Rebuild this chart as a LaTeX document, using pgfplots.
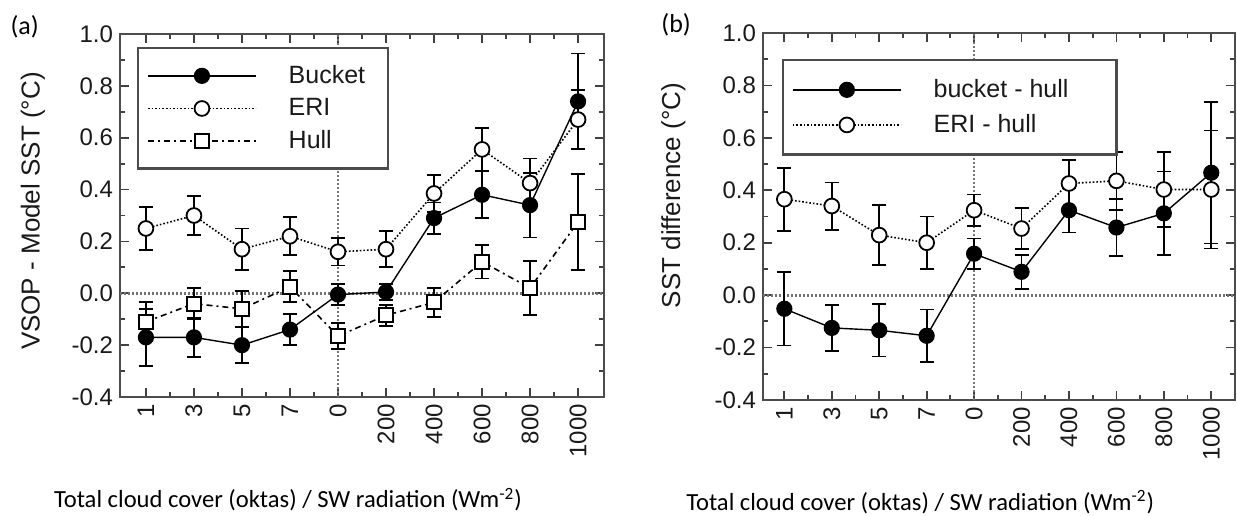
\documentclass[border=0pt]{standalone}
\usepackage{fontspec}
\setmainfont{Liberation Sans}
\newfontfamily\capfont{Carlito}
\usepackage{pgfplots}
\pgfplotsset{compat=1.18}

\pgfplotsset{
  panel/.style={
    scale only axis, clip=false,
    ymin=-0.4, ymax=1.0,
    xtick={0,...,9},
    xticklabels={1,3,5,7,0,200,400,600,800,1000},
    ytick={-0.4,-0.2,0,0.2,0.4,0.6,0.8,1.0},
    yticklabels={-0.4,-0.2,0.0,0.2,0.4,0.6,0.8,1.0},
    minor x tick num=1, minor y tick num=1,
    tick align=inside,
    major tick length=4.5pt, minor tick length=2.5pt,
    every tick/.style={black!75, line width=0.9pt},
    axis line style={black!70, line width=1.2pt},
    tick label style={font=\fontsize{12}{14}\selectfont, text=black!90},
    xticklabel style={rotate=90, anchor=east},
    label style={font=\fontsize{13}{15}\selectfont, text=black!90},
    xlabel style={font=\capfont\fontsize{12.3}{14}\selectfont, anchor=base, text=black},
    legend style={anchor=north west, draw=black!70, line width=1.2pt, fill=white,
      font=\fontsize{12.5}{15}\selectfont, text=black!90,
      inner xsep=4.5pt, inner ysep=6pt, row sep=2pt, column sep=14pt},
    legend cell align=left,
    legend image code/.code={\draw[mark repeat=2,mark phase=2,#1] plot coordinates {(0pt,0pt) (27pt,0pt) (54pt,0pt)};},
  },
  refline/.style={forget plot, black!55, dash pattern=on 1pt off 1pt, line width=1.4pt},
  bucket/.style={black, solid, line width=0.7pt, mark=*, mark size=3.7pt, mark options={solid, fill=black}},
  eri/.style={black, densely dotted, line width=0.8pt, mark=*, mark size=3.7pt, mark options={solid, fill=white, line width=0.9pt}},
  hull/.style={black, dash pattern=on 3pt off 2pt on 1pt off 2pt, line width=0.8pt, mark=square*, mark size=3.5pt, mark options={solid, fill=white, line width=0.9pt}},
  eb/.style={error bars/.cd, y dir=both, y explicit,
    error bar style={solid, black, line width=0.9pt},
    error mark options={rotate=90, mark size=3.5pt, line width=0.9pt, solid, black}},
}

\begin{document}
\begin{tikzpicture}
\useasboundingbox (0,0) rectangle (618.5pt,257.5pt);

% (a)
\begin{axis}[panel,
  at={(60pt,59pt)}, anchor=south west,
  width=242pt, height=181.5pt,
  xmin=-0.54, xmax=9.54,
  ylabel={VSOP - Model SST (°C)},
  ylabel style={at={(axis description cs:-0.18,0.512)}, anchor=center},
  xlabel={Total cloud cover (oktas) / SW radiation (Wm\textsuperscript{-2})},
  xlabel style={at={(axis description cs:0.347,-0.305)}},
  legend style={at={(0.035,0.964)}, inner ysep=6.5pt},
]
\addplot[refline] coordinates {(-0.54,0) (9.54,0)};
\addplot[refline, line width=0.9pt] coordinates {(4,-0.4) (4,1.0)};

\addplot[bucket, eb] coordinates {
  (0,-0.17)  +- (0,0.11)
  (1,-0.17)  +- (0,0.075)
  (2,-0.20)  +- (0,0.07)
  (3,-0.14)  +- (0,0.06)
  (4,-0.005) +- (0,0.04)
  (5,0.005)  +- (0,0.03)
  (6,0.29)   +- (0,0.06)
  (7,0.38)   +- (0,0.09)
  (8,0.34)   +- (0,0.125)
  (9,0.74)   +- (0,0.185)
};
\addplot[eri, eb] coordinates {
  (0,0.25)  +- (0,0.083)
  (1,0.30)  +- (0,0.075)
  (2,0.17)  +- (0,0.08)
  (3,0.22)  +- (0,0.073)
  (4,0.16)  +- (0,0.053)
  (5,0.17)  +- (0,0.07)
  (6,0.385) +- (0,0.07)
  (7,0.555) +- (0,0.083)
  (8,0.425) +- (0,0.095)
  (9,0.67)  +- (0,0.115)
};
\addplot[hull, eb] coordinates {
  (0,-0.11)  +- (0,0.075)
  (1,-0.04)  +- (0,0.06)
  (2,-0.06)  +- (0,0.07)
  (3,0.025)  +- (0,0.06)
  (4,-0.165) +- (0,0.05)
  (5,-0.085) +- (0,0.04)
  (6,-0.035) +- (0,0.055)
  (7,0.122)  +- (0,0.065)
  (8,0.02)   +- (0,0.105)
  (9,0.275)  +- (0,0.185)
};
\legend{\makebox[43pt][l]{Bucket}, ERI, Hull}
\node[font=\capfont\fontsize{13}{16}\selectfont, anchor=base] at (axis description cs:-0.197,1.0) {(a)};
\end{axis}

% (b)
\begin{axis}[panel,
  at={(381.5pt,57.5pt)}, anchor=south west,
  width=236pt, height=183.5pt,
  xmin=-0.45, xmax=9.5,
  ylabel={SST difference (°C)},
  ylabel style={at={(axis description cs:-0.19,0.557)}, anchor=center},
  xlabel={Total cloud cover (oktas) / SW radiation (Wm\textsuperscript{-2})},
  xlabel style={at={(axis description cs:0.333,-0.30)}},
  legend style={at={(0.04,0.929)}, inner ysep=7.5pt, row sep=3pt},
]
\addplot[refline] coordinates {(-0.45,0) (9.5,0)};
\addplot[refline, line width=1.1pt] coordinates {(4,-0.4) (4,1.0)};

\addplot[bucket, eb] coordinates {
  (0,-0.052) +- (0,0.14)
  (1,-0.125) +- (0,0.087)
  (2,-0.134) +- (0,0.10)
  (3,-0.155) +- (0,0.10)
  (4,0.158)  +- (0,0.058)
  (5,0.089)  +- (0,0.065)
  (6,0.324)  +- (0,0.085)
  (7,0.258)  +- (0,0.108)
  (8,0.312)  +- (0,0.16)
  (9,0.467)  +- (0,0.27)
};
\addplot[eri, eb] coordinates {
  (0,0.366) +- (0,0.12)
  (1,0.34)  +- (0,0.09)
  (2,0.229) +- (0,0.115)
  (3,0.20)  +- (0,0.10)
  (4,0.324) +- (0,0.06)
  (5,0.254) +- (0,0.078)
  (6,0.426) +- (0,0.09)
  (7,0.436) +- (0,0.111)
  (8,0.403) +- (0,0.143)
  (9,0.403) +- (0,0.225)
};
\legend{\makebox[85pt][l]{bucket - hull}, ERI - hull}
\node[font=\capfont\fontsize{13}{16}\selectfont, anchor=base] at (axis description cs:-0.184,1.0) {(b)};
\end{axis}
\end{tikzpicture}
\end{document}
